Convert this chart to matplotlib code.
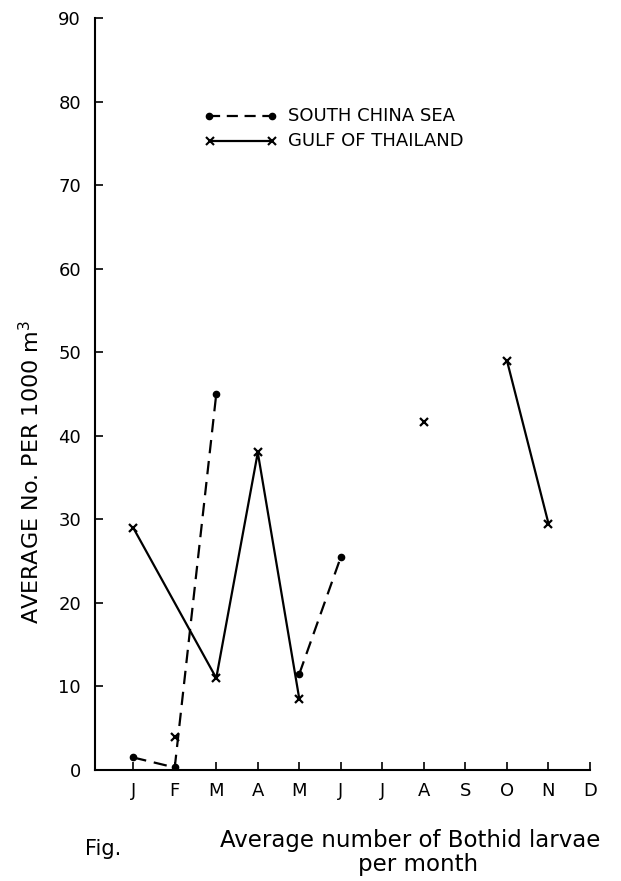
import numpy as np
import matplotlib
matplotlib.use("Agg")
import matplotlib.pyplot as plt

months = ['J', 'F', 'M', 'A', 'M', 'J', 'J', 'A', 'S', 'O', 'N', 'D']
nan = np.nan
south_china_sea = [1.5, 0.3, 45.0, nan, 11.5, 25.5, nan, nan, nan, nan, nan, nan]
gulf_of_thailand = [29.0, 4.0, 11.0, 38.0, 8.5, nan, nan, 41.7, nan, 49.0, 29.5, nan]
# which months are joined by lines
scs_segments = [[0, 1, 2], [4, 5]]
gulf_segments = [[0, 2, 3, 4], [9, 10]]
yticks = [0, 10, 20, 30, 40, 50, 60, 70, 80, 90]

plt.rcParams['font.family'] = ['DejaVu Sans']
fig = plt.figure(figsize=(6.21, 8.81), dpi=100)
ax = fig.add_axes([95/621, 1-770/881, (590-95)/621, (770-18)/881])

x = np.arange(1, 13)
scs = np.array(south_china_sea)
gulf = np.array(gulf_of_thailand)

for seg in scs_segments:
    ax.plot(x[seg], scs[seg], color='black', lw=1.6, ls=(0, (6, 3.5)))
m = ~np.isnan(scs)
ax.plot(x[m], scs[m], ls='none', marker='o', ms=4.5, color='black')

for seg in gulf_segments:
    ax.plot(x[seg], gulf[seg], color='black', lw=1.6)
m = ~np.isnan(gulf)
ax.plot(x[m], gulf[m], ls='none', marker='x', ms=6, mew=1.6, color='black')

ax.set_xlim(1 - 38/41.3, 12)
ax.set_ylim(0, 90)
ax.set_xticks(x)
ax.set_xticklabels(months, fontsize=13)
ax.set_yticks(yticks)
ax.set_yticklabels([str(v) for v in yticks], fontsize=13)
ax.tick_params(direction='in', length=6, width=1.2, pad=10)
ax.tick_params(axis='x', pad=9)
for s in ['top', 'right']:
    ax.spines[s].set_visible(False)
for s in ['left', 'bottom']:
    ax.spines[s].set_linewidth(1.5)

# legend drawn by hand
def fx(px):
    return px / 621
def fy(py):
    return 1 - py / 881
ax2 = fig.add_axes([0, 0, 1, 1], facecolor='none')
ax2.set_xlim(0, 1); ax2.set_ylim(0, 1); ax2.axis('off')
ax2.plot([fx(209), fx(272)], [fy(116), fy(116)], color='black', lw=1.6, ls=(0, (5, 3)))
ax2.plot([fx(209), fx(272)], [fy(116), fy(116)], ls='none', marker='o', ms=4.5, color='black')
ax2.plot([fx(210), fx(272)], [fy(141), fy(141)], color='black', lw=1.6)
ax2.plot([fx(210), fx(272)], [fy(141), fy(141)], ls='none', marker='x', ms=5.5, mew=1.5, color='black')
ax2.text(fx(288), fy(116), 'SOUTH CHINA SEA', fontsize=13, va='center', ha='left')
ax2.text(fx(288), fy(141), 'GULF OF THAILAND', fontsize=13, va='center', ha='left')

fig.text(fx(31), fy(472), 'AVERAGE No. PER 1000 m$^3$', rotation=90, fontsize=16,
         ha='center', va='center')
fig.text(fx(85), fy(849), 'Fig.', fontsize=15, ha='left', va='center')
fig.text(fx(410), fy(840), 'Average number of Bothid larvae', fontsize=16.5, ha='center', va='center')
fig.text(fx(418), fy(864), 'per month', fontsize=16.5, ha='center', va='center')

fig.savefig('out.png', dpi=100)
